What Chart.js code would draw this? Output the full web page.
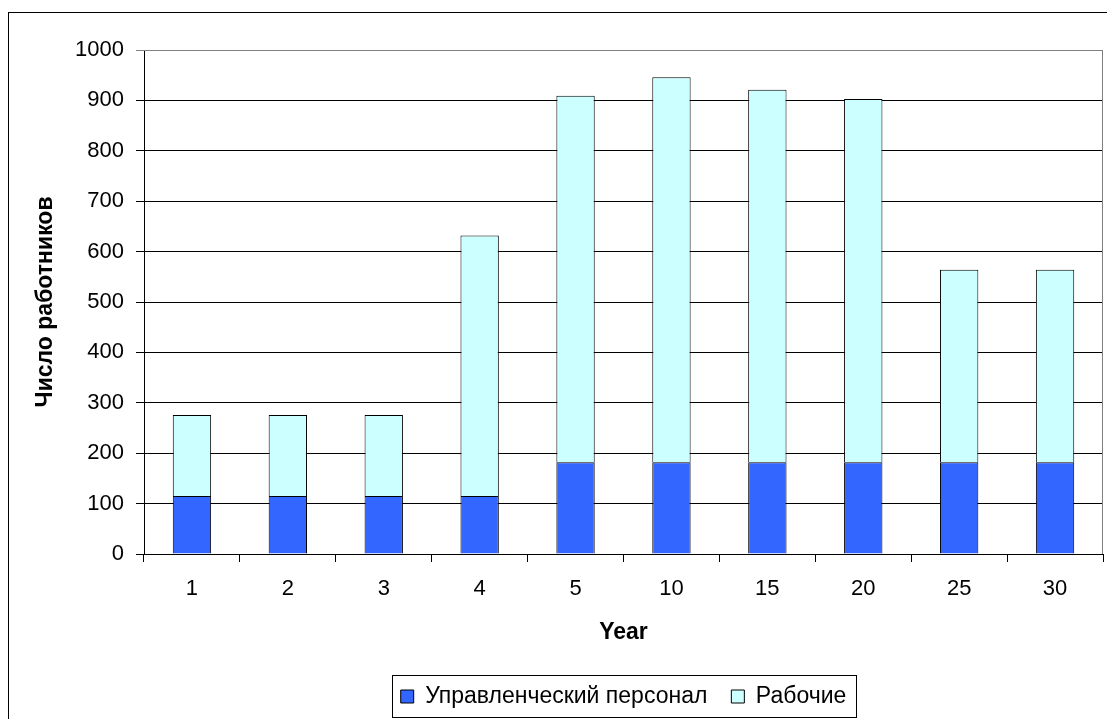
<!DOCTYPE html>
<html>
<head>
<meta charset="utf-8">
<title>Число работников</title>
<script src="https://cdn.jsdelivr.net/npm/chart.js@4/dist/chart.umd.min.js"></script>
<style>
    html, body { margin: 0; padding: 0; background: #fff; overflow: hidden; }
    #wrap { position: relative; width: 1107px; height: 719px; }
    #frame {
        position: absolute; left: 8px; top: 12px;
        width: 1200px; height: 800px;
        border: 1px solid #000;
    }
    #chart { position: absolute; left: 0; top: 0; }
</style>
</head>
<body>
<div id="wrap">
    <div id="frame"></div>
    <canvas id="chart" width="1107" height="719"></canvas>
</div>
<script>
// values
var years    = ['1', '2', '3', '4', '5', '10', '15', '20', '25', '30'];
var managers = [115, 115, 115, 115, 182, 182, 182, 182, 182, 182];
var workers  = [161, 161, 161, 517, 727, 764, 739, 721, 382, 382];

var yTicks = { min: 0, max: 1000, step: 100 };

var fontFamily = "'Liberation Sans', Arial, sans-serif";

// gray frame on the top/right of the plot area, box round the legend
var framePlugin = {
    id: 'frames',
    beforeDatasetsDraw: function(chart) {
        var a = chart.chartArea, ctx = chart.ctx;
        ctx.save();
        ctx.strokeStyle = '#808080';
        ctx.lineWidth = 1;
        ctx.beginPath();
        ctx.moveTo(a.left, a.top + 0.5);
        ctx.lineTo(a.right - 0.5, a.top + 0.5);
        ctx.lineTo(a.right - 0.5, a.bottom);
        ctx.stroke();
        ctx.restore();
    },
    afterDraw: function(chart) {
        var boxes = chart.legend.legendHitBoxes;
        if (!boxes || !boxes.length) return;
        var first = boxes[0], last = boxes[boxes.length - 1];
        var ctx = chart.ctx;
        ctx.save();
        ctx.strokeStyle = '#000';
        ctx.lineWidth = 1;
        ctx.strokeRect(Math.round(first.left) - 8.5, Math.round(first.top) - 9.5,
            Math.round(last.left + last.width - first.left) + 18, 42);
        ctx.restore();
    }
};

new Chart(document.getElementById('chart').getContext('2d'), {
    type: 'bar',
    data: {
        labels: years,
        datasets: [{
            label: 'Управленческий персонал',
            data: managers,
            backgroundColor: '#3366FF',
            borderColor: '#000',
            borderWidth: 1,
            barPercentage: 0.4,
            categoryPercentage: 1
        }, {
            label: 'Рабочие',
            data: workers,
            backgroundColor: '#CCFFFF',
            borderColor: '#000',
            borderWidth: 1,
            barPercentage: 0.4,
            categoryPercentage: 1
        }]
    },
    options: {
        responsive: false,
        animation: false,
        devicePixelRatio: 1,
        layout: { padding: { top: 50, left: 0, right: 4, bottom: 1 } },
        plugins: {
            tooltip: { enabled: false },
            legend: {
                position: 'bottom',
                fullSize: false,   // centre it under the plot area, not the canvas
                labels: {
                    color: '#000',
                    boxWidth: 13,
                    boxHeight: 13,
                    padding: 24,
                    font: { family: fontFamily, size: 23 }
                }
            }
        },
        scales: {
            x: {
                stacked: true,
                offset: true,
                grid: {
                    offset: true,
                    drawOnChartArea: false,
                    color: '#000',
                    tickLength: 8
                },
                border: { color: '#000' },
                ticks: {
                    color: '#000',
                    padding: 14,
                    maxRotation: 0,
                    font: { family: fontFamily, size: 22 }
                },
                title: {
                    display: true,
                    text: 'Year',
                    color: '#000',
                    padding: { top: 0, bottom: 15 },
                    font: { family: fontFamily, size: 23, weight: 'bold' }
                },
                afterFit: function(scale) { scale.height = 107; }
            },
            y: {
                stacked: true,
                min: yTicks.min,
                max: yTicks.max,
                grid: {
                    color: function(c) {
                        return c.tick && c.tick.value === yTicks.max ? '#808080' : '#000';
                    },
                    tickLength: 8
                },
                border: { color: '#000' },
                ticks: {
                    stepSize: yTicks.step,
                    color: '#000',
                    padding: 12,
                    font: { family: fontFamily, size: 22 },
                    callback: function(v) { return String(v); }
                },
                title: {
                    display: true,
                    text: 'Число работников',
                    color: '#000',
                    padding: { top: 32, bottom: 0 },
                    font: { family: fontFamily, size: 23, weight: 'bold' }
                },
                afterFit: function(scale) { scale.width = 144; }
            }
        }
    },
    plugins: [framePlugin]
});
</script>
</body>
</html>
